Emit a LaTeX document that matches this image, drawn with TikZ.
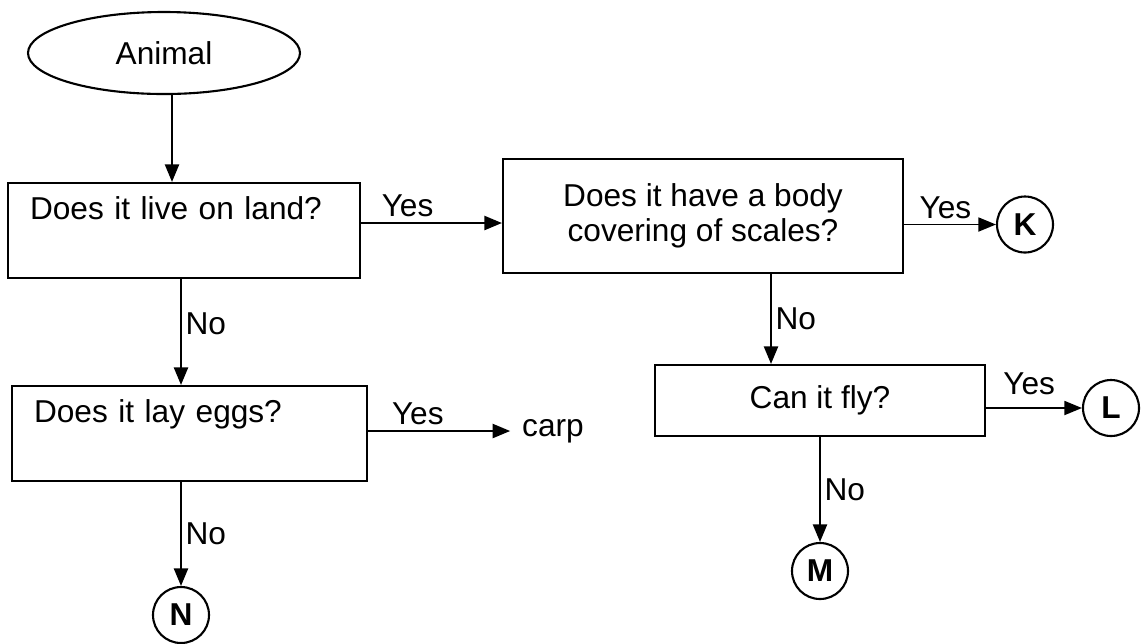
\documentclass[tikz,border=0pt]{standalone}
\usepackage{fontspec}
\setmainfont{Liberation Sans}
\usepackage{tikz}
\usetikzlibrary{shapes.geometric, positioning, arrows.meta, calc}

\begin{document}
\begin{tikzpicture}[
    line width=1.2pt,
    font=\fontsize{18}{20}\selectfont,
    question/.style={draw, rectangle, align=center, fill=white},
    leftq/.style={draw, rectangle, align=left, inner xsep=0.44cm, fill=white},
    answer/.style={draw, circle, minimum size=1.12cm, inner sep=0pt, font=\fontsize{18}{20}\selectfont\bfseries},
    arrow/.style={-{Triangle[length=10pt,width=8pt]}},
    yes/.style={above, inner sep=3pt},
    no/.style={right, inner sep=2pt}
]
    \useasboundingbox (0,0) rectangle (22.84,-12.86);

    % Start
    \node[draw, ellipse, minimum width=5.44cm, minimum height=1.64cm, inner sep=0pt] (animal) at (3.28, -1.06) {Animal};

    % Questions
    \node[leftq, text width=6.16cm, minimum height=1.9cm] (land) at (3.68, -4.61) {Does it live on land?\\ \strut};
    \node[question, minimum width=8cm, minimum height=2.28cm] (scales) at (14.06, -4.32) {Does it have a body\\covering of scales?};
    \node[question, minimum width=6.6cm, minimum height=1.42cm] (fly) at (16.4, -8.01) {Can it fly?};
    \node[leftq, text width=6.22cm, minimum height=1.9cm] (eggs) at (3.79, -8.67) {Does it lay eggs?\\ \strut};

    % Answers
    \node[answer] (K) at (20.5, -4.49) {K};
    \node[answer] (L) at (22.22, -8.16) {L};
    \node[answer] (M) at (16.4, -11.42) {M};
    \node[answer] (N) at (3.62, -12.3) {N};
    \node[inner sep=0.22cm] (carp) at (11.06, -8.62) {carp};

    % Connections
    \draw[arrow] ([xshift=0.16cm]animal.south) -- ([xshift=0.16cm]animal.south |- land.north);
    \draw[arrow] ([yshift=0.15cm]land.east) -- node[yes, pos=0.33] {Yes} ([yshift=0.15cm]land.east -| scales.west);
    \draw[arrow] (land.south -| N) -- node[no, pos=0.42] {No} (eggs.north -| N);
    \draw[arrow] (carp -| eggs.east) -- node[yes, pos=0.35] {Yes} (carp);
    \draw[arrow] (eggs.south -| N) -- node[no] {No} (N);
    \draw[arrow, line width=0.9pt] (K -| scales.east) -- node[yes, pos=0.45] {Yes} (K);
    \draw[arrow] ([xshift=1.36cm]scales.south) -- node[no] {No} ([xshift=1.36cm]scales.south |- fly.north);
    \draw[arrow, line width=0.9pt] (L -| fly.east) -- node[yes, pos=0.45, yshift=0.15cm] {Yes} (L);
    \draw[arrow] (fly) -- node[no] {No} (M);
\end{tikzpicture}
\end{document}
